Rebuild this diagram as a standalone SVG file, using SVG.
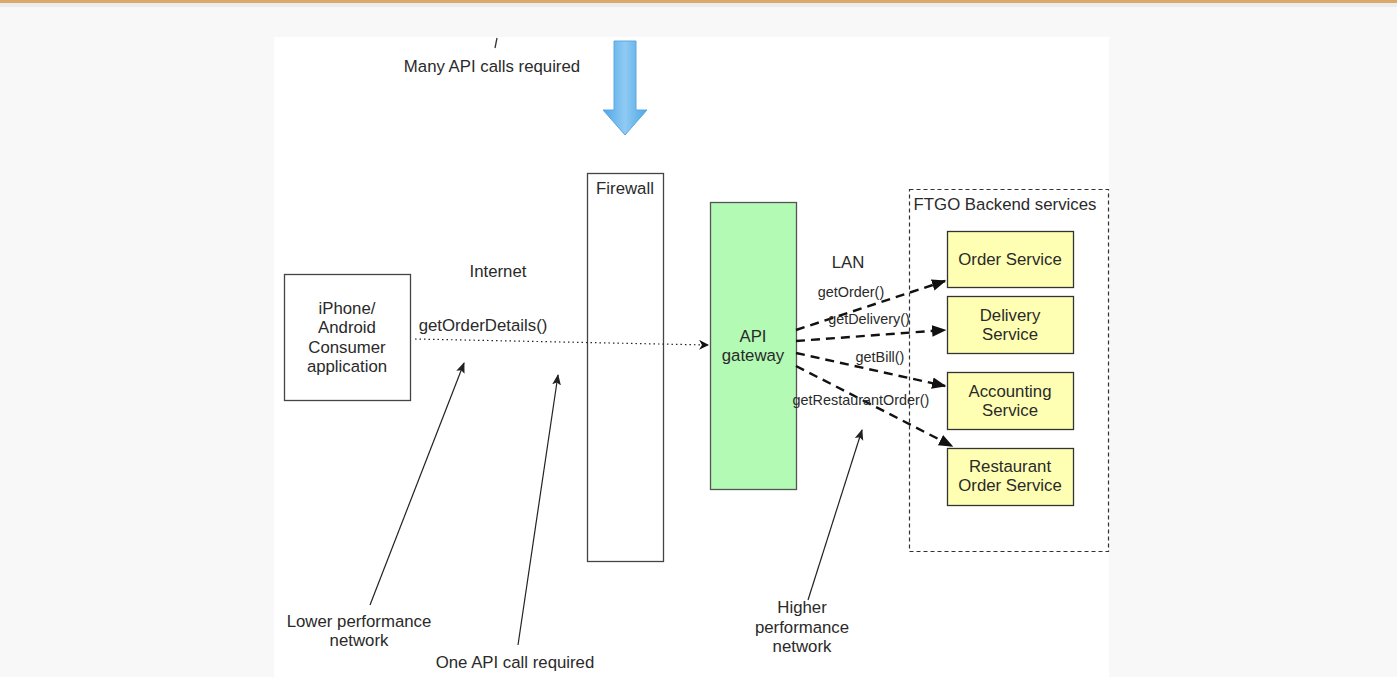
<svg xmlns="http://www.w3.org/2000/svg" width="1397" height="677" viewBox="0 0 1397 677">
<defs>
<style>
text{font-family:"Liberation Sans",Arial,sans-serif;fill:#2a2a2a;font-size:16.8px;text-anchor:middle}
.sm{font-size:14.4px}
.box{stroke:#444;stroke-width:1.3}
.svc{fill:#ffffb3;stroke:#333;stroke-width:1.3}
.dash{fill:none;stroke:#111;stroke-width:2.4;stroke-dasharray:9 6}
.thin{fill:none;stroke:#222;stroke-width:1.2}
</style>
<marker id="ah" viewBox="0 0 10 10" refX="9" refY="5" markerWidth="10" markerHeight="10" markerUnits="userSpaceOnUse" orient="auto">
<path d="M0,0 L10,5 L0,10 L3,5 Z" fill="#111"/>
</marker>
<marker id="ahd" viewBox="0 0 10 10" refX="9" refY="5" markerWidth="6" markerHeight="6" orient="auto">
<path d="M0,1 L10,5 L0,9 Z" fill="#111"/>
</marker>
<marker id="aht" viewBox="0 0 10 10" refX="9" refY="5" markerWidth="11" markerHeight="11" markerUnits="userSpaceOnUse" orient="auto">
<path d="M0,1 L10,5 L0,9 L2,5 Z" fill="#222"/>
</marker>
<linearGradient id="bl" x1="0" y1="0" x2="1" y2="0">
<stop offset="0" stop-color="#4ea6e6"/>
<stop offset="0.5" stop-color="#8fcaf3"/>
<stop offset="1" stop-color="#4ea6e6"/>
</linearGradient>
</defs>
<rect x="0" y="0" width="1397" height="677" fill="#f8f8f8"/>
<rect x="0" y="0" width="1397" height="3" fill="#d9a86a"/>
<rect x="0" y="3" width="1397" height="4" fill="#ececec"/>
<rect x="274" y="37" width="835" height="640" fill="#ffffff"/>

<g id="top-note">
<line x1="497" y1="38" x2="495" y2="48" stroke="#333" stroke-width="1.3"/>
<text x="492" y="72">Many API calls required</text>
</g>
<g id="blue-arrow">
<path d="M614,41 H636 V110 H647 L625,135 L603,110 H614 Z" fill="url(#bl)" stroke="#5aa8e0" stroke-width="1"/>
</g>

<g id="client">
<rect class="box" x="284.5" y="274.5" width="126" height="126" fill="#fff"/>
<text x="347" y="314">iPhone/</text>
<text x="347" y="333">Android</text>
<text x="347" y="353">Consumer</text>
<text x="347" y="372">application</text>
</g>

<g id="firewall">
<rect class="box" x="587.5" y="173.5" width="76" height="388" fill="#fff"/>
<text x="625" y="194">Firewall</text>
</g>

<g id="gateway">
<rect x="710.5" y="202.5" width="86" height="287" fill="#b3fab4" stroke="#555" stroke-width="1.3"/>
<text x="753" y="342">API</text>
<text x="753" y="361">gateway</text>
</g>

<g id="backend">
<rect x="909.5" y="189.5" width="199" height="362" fill="none" stroke="#333" stroke-width="1.2" stroke-dasharray="4 3"/>
<text x="1005" y="210">FTGO Backend services</text>
</g>
<g id="order-service">
<rect class="svc" x="947.5" y="231.5" width="126" height="56"/>
<text x="1010" y="265">Order Service</text>
</g>
<g id="delivery-service">
<rect class="svc" x="947.5" y="296.5" width="126" height="57"/>
<text x="1010" y="321">Delivery</text>
<text x="1010" y="340">Service</text>
</g>
<g id="accounting-service">
<rect class="svc" x="947.5" y="372.5" width="126" height="57"/>
<text x="1010" y="397">Accounting</text>
<text x="1010" y="416">Service</text>
</g>
<g id="restaurant-service">
<rect class="svc" x="947.5" y="448.5" width="126" height="57"/>
<text x="1010" y="472">Restaurant</text>
<text x="1010" y="491">Order Service</text>
</g>

<g id="connectors">
<line x1="415" y1="339" x2="708" y2="345" stroke="#222" stroke-width="1.2" stroke-dasharray="1.5 3" marker-end="url(#ah)"/>
<line class="dash" x1="796" y1="330" x2="945" y2="281" marker-end="url(#ahd)"/>
<line class="dash" x1="796" y1="341" x2="945" y2="330" marker-end="url(#ahd)"/>
<line class="dash" x1="796" y1="353" x2="945" y2="386" marker-end="url(#ahd)"/>
<line class="dash" x1="796" y1="366" x2="952" y2="446" marker-end="url(#ahd)"/>
<line class="thin" x1="370" y1="605" x2="464" y2="363" marker-end="url(#aht)"/>
<line class="thin" x1="518" y1="645" x2="558" y2="375" marker-end="url(#aht)"/>
<line class="thin" x1="808" y1="600" x2="862" y2="430" marker-end="url(#aht)"/>
</g>

<g id="labels">
<text x="498" y="277">Internet</text>
<text x="483" y="331">getOrderDetails()</text>
<text x="848" y="268">LAN</text>
<text class="sm" x="851" y="297">getOrder()</text>
<text class="sm" x="869" y="324">getDelivery()</text>
<text class="sm" x="880" y="362">getBill()</text>
<text class="sm" x="861" y="405">getRestaurantOrder()</text>
<text x="359" y="627">Lower performance</text>
<text x="359" y="646">network</text>
<text x="515" y="668">One API call required</text>
<text x="802" y="613">Higher</text>
<text x="802" y="633">performance</text>
<text x="802" y="652">network</text>
</g>
</svg>
